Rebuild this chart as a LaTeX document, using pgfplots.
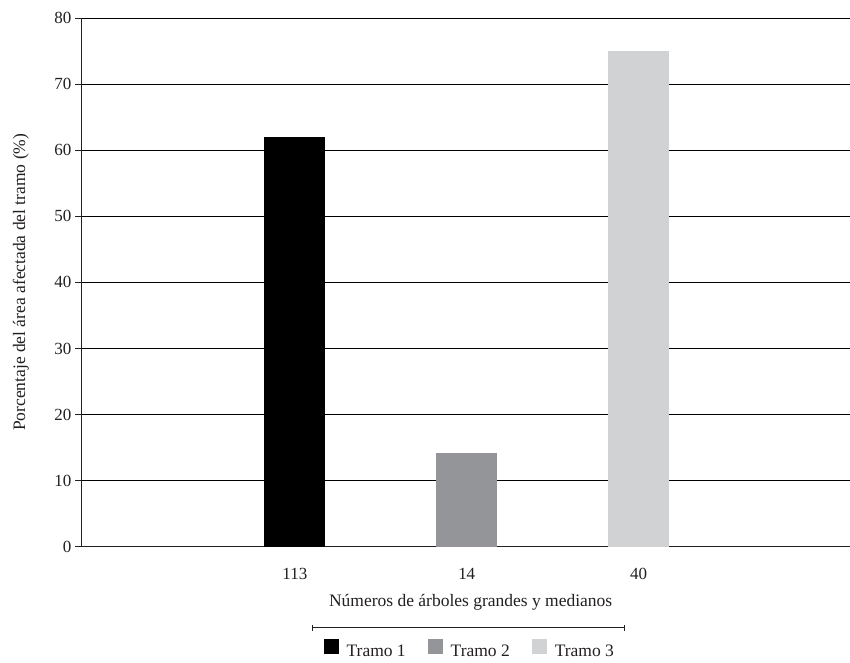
\documentclass[border=0pt]{standalone}
\usepackage{pgfplots}
\pgfplotsset{compat=1.18}
\usepackage{fontspec}
\setmainfont{Liberation Serif}

\definecolor{tramoA}{HTML}{000000}
\definecolor{tramoB}{HTML}{939598}
\definecolor{tramoC}{HTML}{D1D2D4}
\definecolor{texto}{HTML}{231F20}

\begin{document}
\begin{tikzpicture}
\begin{axis}[
  at={(0pt,0pt)}, anchor=south west,
  scale only axis,
  width=769pt, height=529pt,
  xmin=-1.244, xmax=3.227,
  ymin=0, ymax=80,
  ytick={0,10,...,80},
  xtick={0,1,2},
  xticklabels={113,14,40},
  axis x line*=bottom,
  axis y line*=left,
  axis line style={texto, line width=0.8pt},
  major x tick style={draw=none},
  y tick style={texto, line width=0.8pt},
  tick align=outside,
  major tick length=6pt,
  ymajorgrids,
  grid style={black, line width=0.8pt},
  /pgf/number format/assume math mode=true,
  ticklabel style={font=\fontsize{17}{20}\selectfont, text=texto},
  xticklabel style={anchor=base, yshift=-27pt},
  label style={font=\fontsize{17.5}{20}\selectfont, text=texto},
  xlabel={Números de árboles grandes y medianos},
  ylabel={Porcentaje del área afectada del tramo (\%)},
  xlabel style={at={(axis description cs:0.507,-0.1134)}, anchor=base},
  ylabel style={at={(axis description cs:-0.0728,0.5)}, anchor=base},
  ybar, bar width=61pt, bar shift=0pt,
  legend columns=3,
  legend style={at={(389pt,-103pt)}, anchor=center, draw=none, fill=none,
    font=\fontsize{17.5}{20}\selectfont, text=texto,
    /tikz/every even column/.append style={column sep=20pt}},
  legend image code/.code={\fill[#1] (0pt,-2pt) rectangle (15pt,13pt);
    \path (21pt,0pt);},
]
\addplot[draw=none, fill=tramoA] coordinates {(0,62)};
\addlegendentry{Tramo 1}
\addplot[draw=none, fill=tramoB] coordinates {(1,14.2)};
\addlegendentry{Tramo 2}
\addplot[draw=none, fill=tramoC] coordinates {(2,75)};
\addlegendentry{Tramo 3}
\end{axis}
\draw[texto, line width=0.8pt] (232pt,-81pt) -- (544pt,-81pt);
\draw[texto, line width=0.8pt] (232pt,-78pt) -- (232pt,-84pt);
\draw[texto, line width=0.8pt] (544pt,-78pt) -- (544pt,-84pt);
\useasboundingbox (-81pt,-112pt) rectangle (769pt,547pt);
\end{tikzpicture}
\end{document}
